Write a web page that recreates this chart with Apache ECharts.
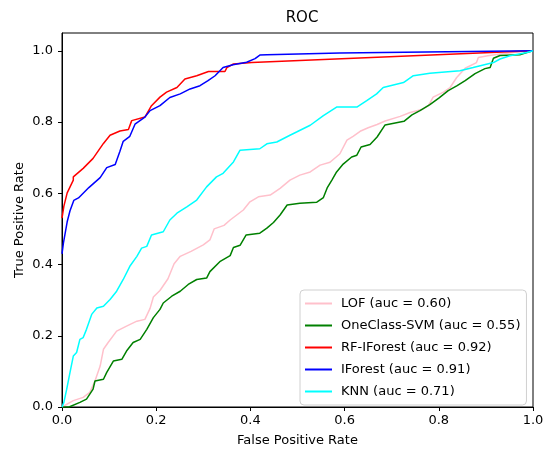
<!DOCTYPE html>
<html>
<head>
<meta charset="utf-8">
<script src="https://cdn.jsdelivr.net/npm/echarts@6/dist/echarts.min.js"></script>
<style>
  html, body { margin: 0; padding: 0; background: #fff; }
  #roc { width: 549px; height: 452px; }
</style>
</head>
<body>
<div id="roc"></div>
<script>
// ROC curves (fpr, tpr pairs)
const tickValues = [0, 0.2, 0.4, 0.6, 0.8, 1.0]

const lofFpr = [0, 0.003, 0.024, 0.045, 0.059, 0.070, 0.081, 0.088, 0.098, 0.116, 0.137, 0.159, 0.176, 0.187, 0.194, 0.208, 0.225, 0.238, 0.251, 0.274, 0.300, 0.314, 0.323, 0.344, 0.357, 0.385, 0.399, 0.417, 0.442, 0.463, 0.484, 0.505, 0.527, 0.548, 0.569, 0.590, 0.605, 0.618, 0.633, 0.650, 0.669, 0.686, 0.718, 0.739, 0.764, 0.778, 0.788, 0.810, 0.824, 0.838, 0.856, 0.880, 0.884, 0.904, 0.930, 0.958, 1.0]
const lofTpr = [0, 0.004, 0.018, 0.027, 0.041, 0.073, 0.115, 0.162, 0.181, 0.213, 0.227, 0.241, 0.246, 0.277, 0.309, 0.327, 0.360, 0.402, 0.423, 0.437, 0.455, 0.469, 0.500, 0.510, 0.525, 0.553, 0.576, 0.590, 0.595, 0.614, 0.637, 0.651, 0.660, 0.679, 0.687, 0.711, 0.749, 0.760, 0.774, 0.784, 0.793, 0.803, 0.816, 0.827, 0.835, 0.846, 0.870, 0.884, 0.897, 0.925, 0.951, 0.967, 0.981, 0.986, 0.991, 0.995, 1.0]

const svmFpr = [0, 0.015, 0.017, 0.038, 0.052, 0.059, 0.066, 0.070, 0.088, 0.095, 0.109, 0.127, 0.137, 0.151, 0.166, 0.173, 0.180, 0.194, 0.208, 0.215, 0.233, 0.251, 0.268, 0.286, 0.307, 0.314, 0.335, 0.357, 0.364, 0.378, 0.391, 0.420, 0.435, 0.449, 0.463, 0.478, 0.505, 0.541, 0.555, 0.563, 0.573, 0.583, 0.597, 0.615, 0.626, 0.635, 0.654, 0.669, 0.686, 0.726, 0.743, 0.760, 0.781, 0.800, 0.820, 0.839, 0.856, 0.877, 0.898, 0.909, 0.916, 0.930, 0.972, 0.987, 1.0]
const svmTpr = [0, 0, 0.004, 0.013, 0.022, 0.036, 0.050, 0.073, 0.078, 0.097, 0.129, 0.134, 0.157, 0.181, 0.190, 0.204, 0.218, 0.251, 0.274, 0.292, 0.311, 0.325, 0.344, 0.358, 0.362, 0.380, 0.408, 0.425, 0.448, 0.454, 0.483, 0.488, 0.502, 0.518, 0.539, 0.567, 0.572, 0.575, 0.588, 0.615, 0.637, 0.660, 0.682, 0.702, 0.707, 0.730, 0.737, 0.758, 0.792, 0.802, 0.820, 0.832, 0.849, 0.867, 0.888, 0.902, 0.916, 0.936, 0.950, 0.953, 0.979, 0.987, 0.989, 0.995, 1.0]

const rfFpr = [0, 0.004, 0.011, 0.024, 0.024, 0.045, 0.066, 0.088, 0.102, 0.123, 0.141, 0.148, 0.176, 0.190, 0.208, 0.222, 0.244, 0.261, 0.286, 0.311, 0.346, 0.350, 0.364, 0.403, 1.0]
const rfTpr = [0.53, 0.564, 0.601, 0.637, 0.646, 0.670, 0.698, 0.740, 0.763, 0.775, 0.779, 0.804, 0.814, 0.846, 0.870, 0.884, 0.897, 0.921, 0.930, 0.942, 0.942, 0.953, 0.963, 0.967, 1.0]

const ifFpr = [0, 0.003, 0.011, 0.017, 0.025, 0.035, 0.057, 0.081, 0.095, 0.113, 0.123, 0.130, 0.144, 0.155, 0.176, 0.187, 0.208, 0.229, 0.251, 0.272, 0.293, 0.310, 0.325, 0.342, 0.363, 0.392, 0.410, 0.420, 0.435, 0.590, 1.0]
const ifTpr = [0.43, 0.46, 0.52, 0.551, 0.58, 0.587, 0.616, 0.644, 0.672, 0.681, 0.718, 0.746, 0.760, 0.794, 0.814, 0.832, 0.846, 0.869, 0.879, 0.893, 0.902, 0.916, 0.930, 0.953, 0.961, 0.968, 0.978, 0.988, 0.989, 0.994, 1.0]

const knnFpr = [0, 0.004, 0.010, 0.017, 0.024, 0.031, 0.038, 0.045, 0.052, 0.063, 0.074, 0.088, 0.102, 0.116, 0.130, 0.144, 0.159, 0.169, 0.180, 0.190, 0.215, 0.229, 0.244, 0.265, 0.286, 0.307, 0.328, 0.342, 0.364, 0.378, 0.420, 0.435, 0.456, 0.484, 0.498, 0.527, 0.555, 0.583, 0.626, 0.647, 0.668, 0.682, 0.725, 0.746, 0.781, 0.845, 0.873, 0.916, 0.930, 0.951, 0.987, 1.0]
const knnTpr = [0, 0.013, 0.050, 0.097, 0.143, 0.153, 0.190, 0.195, 0.218, 0.260, 0.278, 0.283, 0.302, 0.325, 0.358, 0.395, 0.423, 0.446, 0.451, 0.483, 0.492, 0.525, 0.544, 0.562, 0.581, 0.618, 0.646, 0.656, 0.688, 0.721, 0.725, 0.739, 0.744, 0.763, 0.772, 0.791, 0.818, 0.842, 0.842, 0.860, 0.879, 0.897, 0.911, 0.930, 0.937, 0.944, 0.953, 0.967, 0.977, 0.986, 0.995, 1.0]

const names = ['LOF (auc = 0.60)', 'OneClass-SVM (auc = 0.55)', 'RF-IForest (auc = 0.92)', 'IForest (auc = 0.91)', 'KNN (auc = 0.71)']
const colors = ['#ffc0cb', '#008000', '#ff0000', '#0000ff', '#00ffff']

function pairs(xs, ys) {
  return xs.map((x, i) => [x, ys[i]])
}

const curves = [
  pairs(lofFpr, lofTpr),
  pairs(svmFpr, svmTpr),
  pairs(rfFpr, rfTpr),
  pairs(ifFpr, ifTpr),
  pairs(knnFpr, knnTpr)
]

const font = 'DejaVu Sans'
const chart = echarts.init(document.getElementById('roc'))

const axisCommon = {
  type: 'value',
  min: 0,
  interval: 0.2,
  nameLocation: 'middle',
  nameTextStyle: { fontFamily: font, fontSize: 13, color: '#000' },
  axisLine: { show: true, lineStyle: { color: '#000', width: 1 } },
  axisTick: { show: true, length: 4, lineStyle: { color: '#000' }, customValues: tickValues },
  axisLabel: {
    fontFamily: font, fontSize: 13, color: '#000',
    customValues: tickValues,
    formatter: v => v.toFixed(1)
  },
  splitLine: { show: false }
}

chart.setOption({
  animation: false,
  backgroundColor: '#fff',
  title: {
    text: 'ROC',
    left: 297,
    textAlign: 'center',
    top: 6,
    textStyle: { fontFamily: font, fontSize: 15, fontWeight: 'normal', color: '#000' }
  },
  grid: {
    left: 62, right: 16, top: 33, bottom: 44,
    show: true, borderColor: '#000', borderWidth: 1
  },
  xAxis: Object.assign({}, axisCommon, {
    max: 1,
    name: 'False Positive Rate',
    nameGap: 27,
    axisLabel: Object.assign({}, axisCommon.axisLabel, { margin: 7 })
  }),
  yAxis: Object.assign({}, axisCommon, {
    max: 1.05,
    name: 'True Positive Rate',
    nameMoveOverlap: false,
    nameGap: 36,
    axisLabel: Object.assign({}, axisCommon.axisLabel, { margin: 9 })
  }),
  legend: {
    orient: 'vertical',
    left: 300,
    top: 290,
    padding: [6, 6, 6, 5],
    itemGap: 7,
    itemWidth: 27,
    itemHeight: 2,
    icon: 'rect',
    backgroundColor: 'rgba(255,255,255,0.8)',
    borderColor: '#d0d0d0',
    borderWidth: 1,
    borderRadius: 4,
    textStyle: { fontFamily: font, fontSize: 13, color: '#000', lineHeight: 15, padding: [0, 0, 0, 4] },
    data: names
  },
  series: curves.map((d, i) => ({
    type: 'line',
    name: names[i],
    data: d,
    showSymbol: false,
    symbol: 'none',
    color: colors[i],
    lineStyle: { color: colors[i], width: 1.5 }
  }))
})
</script>
</body>
</html>
